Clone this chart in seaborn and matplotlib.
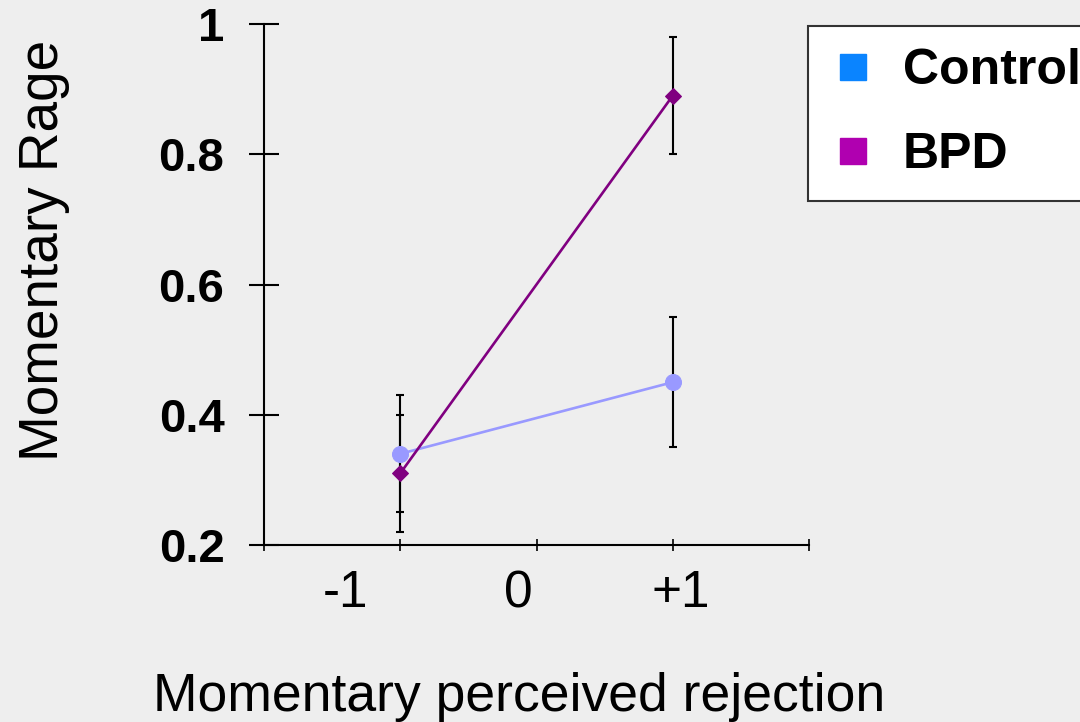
import matplotlib
matplotlib.use("Agg")
import matplotlib.pyplot as plt
from matplotlib.lines import Line2D
from matplotlib.transforms import blended_transform_factory
import seaborn as sns
import pandas as pd

# Data: mean momentary rage at low (-1) / high (+1) perceived rejection
conditions = ["-1", "+1"]
x_pos = [1, 3]
control_means = [0.34, 0.45]
control_err = [0.09, 0.10]
bpd_means = [0.31, 0.89]
bpd_err = [0.09, 0.09]

x_tick_labels = ["-1", "0", "+1"]
x_label_pos = [0.6, 1.87, 3.06]
y_ticks = [0.2, 0.4, 0.6, 0.8, 1.0]
y_tick_labels = ["0.2", "0.4", "0.6", "0.8", "1"]

group_names = ["Control", "BPD"]
line_colors = {"Control": "#9999ff", "BPD": "#800080"}
legend_colors = {"Control": "#0a84ff", "BPD": "#b000b0"}

bg = "#eeeeee"
sns.set_style("white")
plt.rcParams["font.family"] = ["Liberation Sans", "DejaVu Sans"]
plt.rcParams["text.color"] = "black"
plt.rcParams["axes.labelcolor"] = "black"
plt.rcParams["xtick.color"] = "black"
plt.rcParams["ytick.color"] = "black"

W, H = 1080, 722
fig = plt.figure(figsize=(W / 100, H / 100), dpi=100, facecolor=bg)
ax = fig.add_axes([264 / W, 1 - 545 / H, (809 - 264) / W, (545 - 24) / H])
ax.set_facecolor(bg)

df = pd.DataFrame({
    "x": x_pos * 2,
    "rage": control_means + bpd_means,
    "err": control_err + bpd_err,
    "group": ["Control"] * 2 + ["BPD"] * 2,
})

# error bars under the lines
ax.errorbar(df["x"], df["rage"], yerr=df["err"], fmt="none", ecolor="black",
            elinewidth=1.5, capsize=2.6, capthick=1.5, zorder=1)

markers = {"Control": "o", "BPD": "D"}
sizes = {"Control": 11.5, "BPD": 8.0}
for i, g in enumerate(group_names):
    sub = df[df["group"] == g]
    sns.lineplot(data=sub, x="x", y="rage", ax=ax, color=line_colors[g],
                 marker=markers[g], markersize=sizes[g],
                 markeredgecolor=line_colors[g], markerfacecolor=line_colors[g],
                 linewidth=1.9, zorder=2 + i, legend=False)

ax.set_xlim(0, 4)
ax.set_ylim(0.2, 1.0)

for side in ["top", "right"]:
    ax.spines[side].set_visible(False)
for side in ["left", "bottom"]:
    ax.spines[side].set_color("black")
    ax.spines[side].set_linewidth(1.5)

ax.set_xticks([0, 1, 2, 3, 4])
ax.set_xticklabels([])
ax.tick_params(axis="x", bottom=True, direction="inout", length=9, width=1.2,
               color="black")

ax.set_yticks(y_ticks)
ax.set_yticklabels(y_tick_labels, fontsize=34, fontweight="bold", color="black")
ax.tick_params(axis="y", left=True, direction="inout", length=22, width=1.5,
               color="black", pad=17.5)

trans = blended_transform_factory(ax.transData, fig.transFigure)
for pos, lab in zip(x_label_pos, x_tick_labels):
    ax.text(pos, 1 - 607 / H, lab, ha="center", va="baseline", fontsize=37,
            color="black", transform=trans)

ax.set_xlabel("Momentary perceived rejection", fontsize=38.5, color="black")
ax.xaxis.set_label_coords(519 / W, 1 - 711 / H, transform=fig.transFigure)
ax.xaxis.label.set_va("baseline")

ax.set_ylabel("Momentary Rage", fontsize=39.5, color="black")
ax.yaxis.set_label_coords(58 / W, 1 - 250 / H, transform=fig.transFigure)
ax.yaxis.label.set(va="baseline", ha="center", rotation_mode="anchor")

handles = [Line2D([], [], linestyle="none", marker="s", markersize=19,
                  color=legend_colors[g], markeredgecolor=legend_colors[g])
           for g in group_names]
leg = ax.legend(handles, group_names, loc="upper left",
                bbox_to_anchor=(808 / W, 1 - 26 / H), bbox_transform=fig.transFigure,
                prop={"size": 36, "weight": "bold"}, frameon=True, fancybox=False,
                framealpha=1, edgecolor="#333333", facecolor="white",
                borderpad=0.45, labelspacing=0.75, handletextpad=0.55,
                handlelength=0.9, borderaxespad=0)
leg.get_frame().set_linewidth(1.5)
for t in leg.get_texts():
    t.set_color("black")

fig.savefig("out.png", dpi=100, facecolor=bg)
